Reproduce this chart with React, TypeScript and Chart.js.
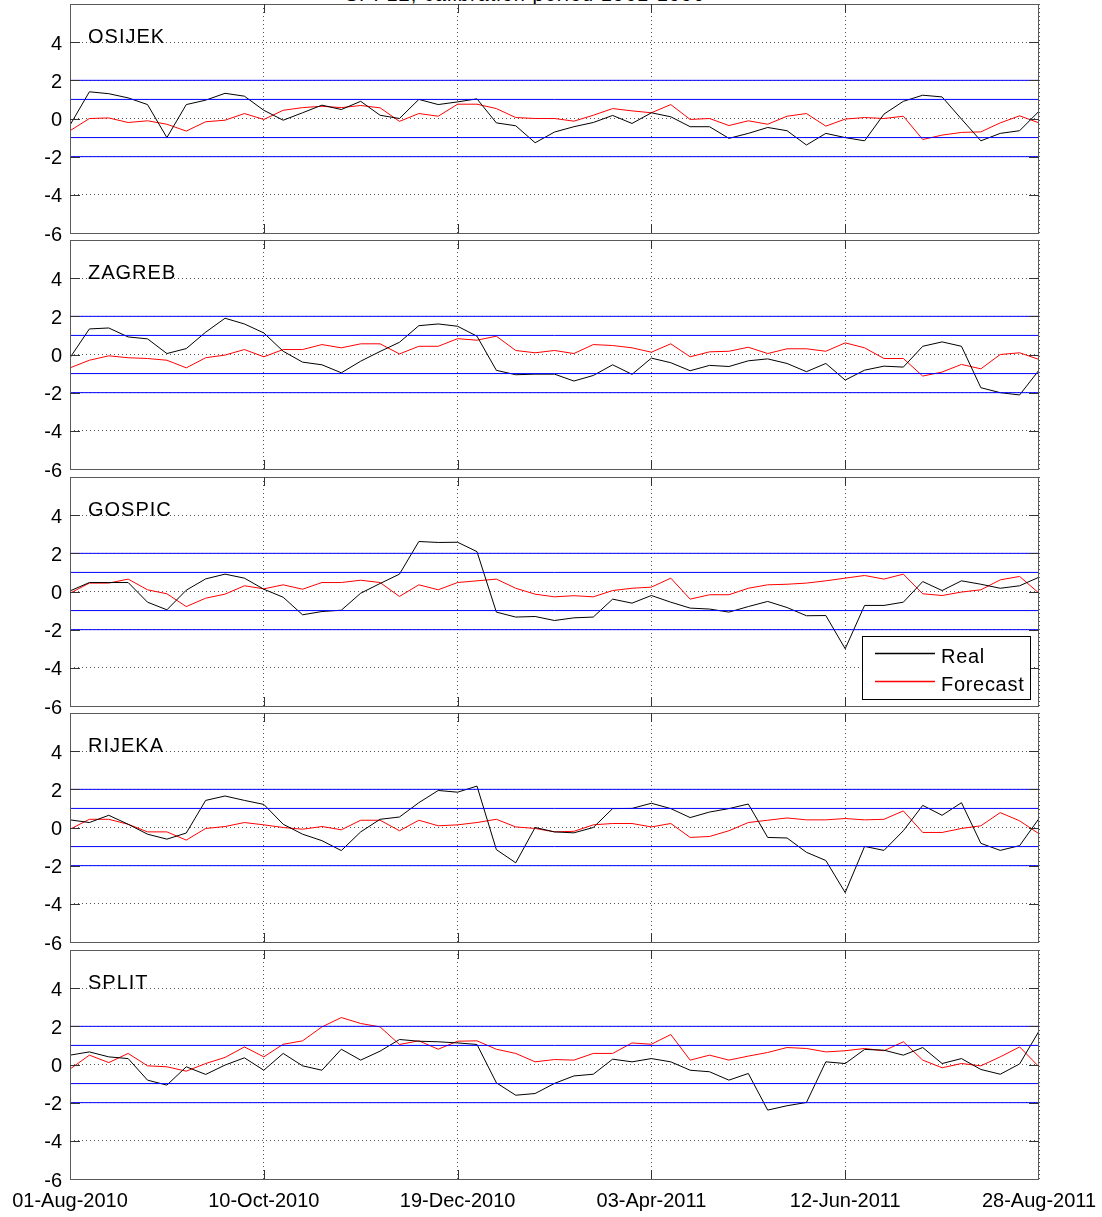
import React, { useEffect, useRef } from 'react';
import { Chart, registerables } from 'chart.js';

Chart.register(...registerables);

// ---------------- data ----------------
const DATE_LABELS = ['01-Aug-2010', '10-Oct-2010', '19-Dec-2010', '03-Apr-2011', '12-Jun-2011', '28-Aug-2011'];
const DATE_TICK_INDEX = [0, 10, 20, 30, 40, 50];
const Y_TICKS = [-6, -4, -2, 0, 2, 4, 6];
const THRESHOLDS = [2, 1, -1, -2];
const STATIONS = ['OSIJEK', 'ZAGREB', 'GOSPIC', 'RIJEKA', 'SPLIT'];
const SERIES_NAMES = ['Real', 'Forecast'];
const TITLE = 'SPI 12, calibration period 1961-1990';

const osijekReal = [-0.35, 1.4, 1.3, 1.08, 0.73, -1.0, 0.73, 0.96, 1.32, 1.17, 0.43, -0.09, 0.3, 0.7, 0.47, 0.9, 0.17, 0.0,
  1.0, 0.73, 0.87, 1.03, -0.23, -0.38, -1.27, -0.71, -0.43, -0.21, 0.16, -0.26, 0.3, 0.09, -0.43, -0.43, -1.04,
  -0.78, -0.47, -0.64, -1.39, -0.78, -1.0, -1.17, 0.23, 0.9, 1.22, 1.13, -0.03, -1.17, -0.78, -0.64, 0.38];
const osijekForecast = [-0.64, 0, 0.03, -0.21, -0.12, -0.3, -0.66, -0.17, -0.09, 0.26, -0.05, 0.43, 0.57, 0.64, 0.57, 0.68, 0.56, -0.15,
  0.26, 0.12, 0.75, 0.75, 0.52, 0.05, 0, 0, -0.14, 0.17, 0.52, 0.4, 0.3, 0.73, -0.05, 0, -0.37,
  -0.12, -0.3, 0.12, 0.26, -0.4, -0.03, 0.05, 0, 0.12, -1.1, -0.87, -0.73, -0.7, -0.23, 0.14, -0.23];

const zagrebReal = [-0.17, 1.34, 1.39, 0.92, 0.82, 0.05, 0.31, 1.17, 1.9, 1.6, 1.13, 0.17, -0.4, -0.54, -0.96, -0.35, 0.16, 0.64,
  1.51, 1.6, 1.48, 0.96, -0.83, -1.06, -1.03, -1.03, -1.39,
  -1.1, -0.54, -1.04, -0.19, -0.43, -0.85, -0.57, -0.63, -0.33, -0.23, -0.47, -0.9, -0.47, -1.34, -0.82, -0.61, -0.66,
  0.43, 0.66, 0.43, -1.74, -2.0, -2.12, -0.82];
const zagrebForecast = [-0.7, -0.3, -0.07, -0.17, -0.21, -0.3, -0.7, -0.17, -0.03, 0.26, -0.12, 0.26, 0.26, 0.52, 0.35, 0.56, 0.56, 0.03,
  0.43, 0.43, 0.83, 0.75, 0.96, 0.21, 0.09, 0.21, 0.05,
  0.52, 0.47, 0.35, 0.12, 0.56, -0.12, 0.14, 0.17, 0.38, 0.05, 0.3, 0.3, 0.17, 0.61, 0.35, -0.21, -0.21,
  -1.13, -0.92, -0.52, -0.75, 0, 0.09, -0.26];

const gospicReal = [0.03, 0.47, 0.47, 0.47, -0.56, -0.96, 0.07, 0.66, 0.91, 0.7, 0.12, -0.3, -1.22, -1.05, -0.98, -0.09, 0.42, 0.91,
  2.62, 2.57, 2.58, 2.09, -1.08, -1.34, -1.31, -1.52, -1.38,
  -1.34, -0.4, -0.61, -0.21, -0.56, -0.87, -0.92, -1.08, -0.79, -0.52, -0.84, -1.27, -1.26, -3.0, -0.73, -0.73, -0.56,
  0.52, 0.05, 0.56, 0.38, 0.17, 0.3, 0.75];
const gospicForecast = [-0.09, 0.44, 0.44, 0.65, 0.09, -0.12, -0.79, -0.35, -0.14, 0.3, 0.14, 0.35, 0.12, 0.47, 0.47, 0.59, 0.47, -0.26,
  0.35, 0.09, 0.47, 0.56, 0.65, 0.17, -0.14, -0.28, -0.22,
  -0.28, 0.05, 0.17, 0.23, 0.7, -0.4, -0.17, -0.17, 0.17, 0.35, 0.38, 0.44, 0.56, 0.7, 0.84, 0.65, 0.91,
  -0.12, -0.21, -0.03, 0.09, 0.61, 0.79, -0.09];

const rijekaReal = [0.4, 0.26, 0.64, 0.17, -0.35, -0.61, -0.29, 1.42, 1.65, 1.42, 1.21, 0.17, -0.35, -0.69, -1.21, -0.23, 0.43, 0.55,
  1.3, 1.94, 1.85, 2.17, -1.16, -1.85, 0, -0.23, -0.28,
  0, 0.99, 1.0, 1.27, 0.99, 0.52, 0.81, 0.99, 1.23, -0.52, -0.55, -1.3, -1.73, -3.41, -0.99, -1.2, -0.17,
  1.16, 0.64, 1.3, -0.83, -1.2, -0.95, 0.47];
const rijekaForecast = [-0.09, 0.43, 0.43, 0.17, -0.23, -0.23, -0.66, -0.05, 0.05, 0.26, 0.14, 0, -0.09, 0.05, -0.12, 0.38, 0.38, -0.17,
  0.38, 0.09, 0.14, 0.26, 0.43, 0.03, -0.05, -0.23, -0.2,
  0.14, 0.21, 0.21, 0.03, 0.21, -0.52, -0.47, -0.17, 0.26, 0.38, 0.5, 0.4, 0.4, 0.47, 0.4, 0.43, 0.87,
  -0.26, -0.26, -0.05, 0.09, 0.78, 0.35, -0.33];

const splitReal = [0.49, 0.66, 0.4, 0.31, -0.82, -1.08, -0.12, -0.52, -0.03, 0.35, -0.3, 0.58, -0.07, -0.3, 0.8, 0.23, 0.7, 1.31,
  1.22, 1.19, 1.13, 1.05, -0.96, -1.61, -1.52, -0.99, -0.6,
  -0.51, 0.28, 0.14, 0.31, 0.14, -0.3, -0.38, -0.82, -0.47, -2.39, -2.16, -1.99, 0.14, 0.05, 0.79, 0.75, 0.49,
  0.89, 0.05, 0.31, -0.26, -0.51, 0.03, 1.75];
const splitForecast = [-0.24, 0.49, 0.1, 0.58, -0.07, -0.12, -0.35, 0.05, 0.37, 0.92, 0.4, 1.06, 1.24, 1.97, 2.46, 2.15, 1.97, 1.05,
  1.24, 0.8, 1.22, 1.24, 0.8, 0.58, 0.14, 0.26, 0.23,
  0.58, 0.58, 1.13, 1.06, 1.57, 0.23, 0.49, 0.23, 0.44, 0.63, 0.89, 0.84, 0.66, 0.72, 0.84, 0.72, 1.19,
  0.23, -0.17, 0.05, -0.07, 0.4, 0.92, -0.12];

const REAL = [osijekReal, zagrebReal, gospicReal, rijekaReal, splitReal];
const FORECAST = [osijekForecast, zagrebForecast, gospicForecast, rijekaForecast, splitForecast];

// ---------------- layout ----------------
const FONT = '"Liberation Sans", Arial, Helvetica, sans-serif';
const PANEL_TOPS = [4, 240, 477, 713, 950];
const PANEL_H = 229;
const PAD_TOP = 14;
const PLOT_LEFT = 70;
const PLOT_RIGHT = 1039;
const W = 1102;
const SERIES_COLORS = ['#000000', '#ff0000'];

Chart.defaults.font.family = FONT;

function makeFramePlugin(station: string, showLegend: boolean) {
  return {
    id: 'frame',
    afterDatasetsDraw(chart: any) {
      const { ctx, chartArea } = chart;
      const xs = chart.scales.x;
      const ys = chart.scales.y;
      const { left, right, top, bottom } = chartArea;
      ctx.save();
      // threshold lines
      ctx.strokeStyle = '#0000ff';
      ctx.lineWidth = 1;
      THRESHOLDS.forEach((t) => {
        const y = ys.getPixelForValue(t);
        ctx.beginPath();
        ctx.moveTo(left, y);
        ctx.lineTo(right, y);
        ctx.stroke();
      });
      // box
      ctx.strokeStyle = '#5a5a5a';
      ctx.lineWidth = 1;
      ctx.strokeRect(Math.round(left) + 0.5, Math.round(top) + 0.5, Math.round(right - left) - 1, Math.round(bottom - top));
      // inward ticks
      ctx.strokeStyle = '#333333';
      Y_TICKS.forEach((v) => {
        if (v === 6 || v === -6) return;
        const y = Math.round(ys.getPixelForValue(v)) + 0.5;
        ctx.beginPath();
        ctx.moveTo(left, y);
        ctx.lineTo(left + 10, y);
        ctx.moveTo(right - 10, y);
        ctx.lineTo(right, y);
        ctx.stroke();
      });
      DATE_TICK_INDEX.forEach((v) => {
        if (v === 0 || v === 50) return;
        const x = Math.round(xs.getPixelForValue(v)) + 0.5;
        ctx.beginPath();
        ctx.moveTo(x, top);
        ctx.lineTo(x, top + 9);
        ctx.moveTo(x, bottom - 9);
        ctx.lineTo(x, bottom);
        ctx.stroke();
      });
      // station label
      ctx.fillStyle = '#000000';
      ctx.font = '20px ' + FONT;
      if ('letterSpacing' in ctx) (ctx as any).letterSpacing = '1px';
      ctx.textAlign = 'left';
      ctx.textBaseline = 'alphabetic';
      ctx.fillText(station, left + 18, ys.getPixelForValue(4) + 1);
      // legend
      if (showLegend) {
        const bx = Math.round(right - 177);
        const by = Math.round(bottom - 70);
        const bw = 168;
        const bh = 63;
        ctx.fillStyle = '#ffffff';
        ctx.fillRect(bx, by, bw, bh);
        ctx.strokeStyle = '#000000';
        ctx.lineWidth = 1;
        ctx.strokeRect(bx + 0.5, by + 0.5, bw, bh);
        const rows = [by + 17, by + 45];
        if ('letterSpacing' in ctx) (ctx as any).letterSpacing = '0.7px';
        SERIES_NAMES.forEach((name, i) => {
          const y = rows[i] + 0.5;
          ctx.strokeStyle = SERIES_COLORS[i];
          ctx.lineWidth = 1.3;
          ctx.beginPath();
          ctx.moveTo(bx + 13, y);
          ctx.lineTo(bx + 73, y);
          ctx.stroke();
          ctx.fillStyle = '#000000';
          ctx.font = '20px ' + FONT;
          ctx.textBaseline = 'middle';
          ctx.fillText(name, bx + 79, y + 4);
        });
      }
      if ('letterSpacing' in ctx) (ctx as any).letterSpacing = '0px';
      ctx.restore();
    },
  };
}

function Panel({ idx }: { idx: number }) {
  const ref = useRef<HTMLCanvasElement>(null);
  const showX = idx === 4;
  const bottomExtra = showX ? 38 : 16;
  const height = PAD_TOP + PANEL_H + bottomExtra;
  useEffect(() => {
    if (!ref.current) return;
    const series = [REAL[idx], FORECAST[idx]];
    const chart = new Chart(ref.current, {
      type: 'line',
      data: {
        datasets: series.map((vals, k) => ({
          label: SERIES_NAMES[k],
          data: vals.map((y, i) => ({ x: i, y })),
          borderColor: SERIES_COLORS[k],
          borderWidth: 1,
          pointRadius: 0,
          tension: 0,
          fill: false,
        })),
      },
      options: {
        animation: false,
        responsive: false,
        devicePixelRatio: 1,
        events: [],
        layout: { autoPadding: false, padding: { left: 0, right: W - PLOT_RIGHT, top: PAD_TOP, bottom: 0 } },
        plugins: { legend: { display: false }, tooltip: { enabled: false }, title: { display: false } },
        scales: {
          x: {
            type: 'linear',
            min: 0,
            max: 50,
            afterBuildTicks: (s: any) => { s.ticks = DATE_TICK_INDEX.map((v) => ({ value: v })); },
            afterFit: (s: any) => { s.height = bottomExtra; s.paddingLeft = 0; s.paddingRight = 0; s.paddingTop = 0; s.paddingBottom = 0; },
            ticks: {
              display: showX,
              padding: 10,
              maxRotation: 0,
              autoSkip: false,
              color: '#000',
              font: { size: 20, family: FONT },
              callback: (v: any) => DATE_LABELS[DATE_TICK_INDEX.indexOf(Number(v))] ?? '',
            },
            grid: { color: '#555', drawTicks: false, lineWidth: 1 },
            border: { display: false, dash: [1, 3] },
          },
          y: {
            min: -6,
            max: 6,
            afterBuildTicks: (s: any) => { s.ticks = Y_TICKS.map((v) => ({ value: v })); },
            afterFit: (s: any) => { s.width = PLOT_LEFT; s.paddingTop = 0; s.paddingBottom = 0; s.paddingLeft = 0; s.paddingRight = 0; },
            ticks: {
              padding: 8,
              labelOffset: 2,
              color: '#000',
              font: { size: 20, family: FONT },
              callback: (v: any) => (Number(v) === 6 ? '' : String(v)),
            },
            grid: { color: '#555', drawTicks: false, lineWidth: 1 },
            border: { display: false, dash: [1, 3] },
          },
        },
      },
      plugins: [makeFramePlugin(STATIONS[idx], idx === 2)],
    } as any);
    return () => chart.destroy();
  }, [idx]);
  return (
    <canvas
      ref={ref}
      width={W}
      height={height}
      style={{ position: 'absolute', left: 0, top: PANEL_TOPS[idx] - PAD_TOP, width: W, height }}
    />
  );
}

export default function App() {
  return (
    <div style={{ position: 'absolute', left: 0, top: 0, width: W, height: 1217, overflow: 'hidden', background: '#fff' }}>
      <div
        style={{
          position: 'absolute', left: 0, width: 1050, top: -17, textAlign: 'center',
          font: '20px ' + FONT, color: '#000', whiteSpace: 'nowrap', letterSpacing: '1px',
        }}
      >
        {TITLE}
      </div>
      {STATIONS.map((s, i) => (
        <Panel key={s} idx={i} />
      ))}
    </div>
  );
}
